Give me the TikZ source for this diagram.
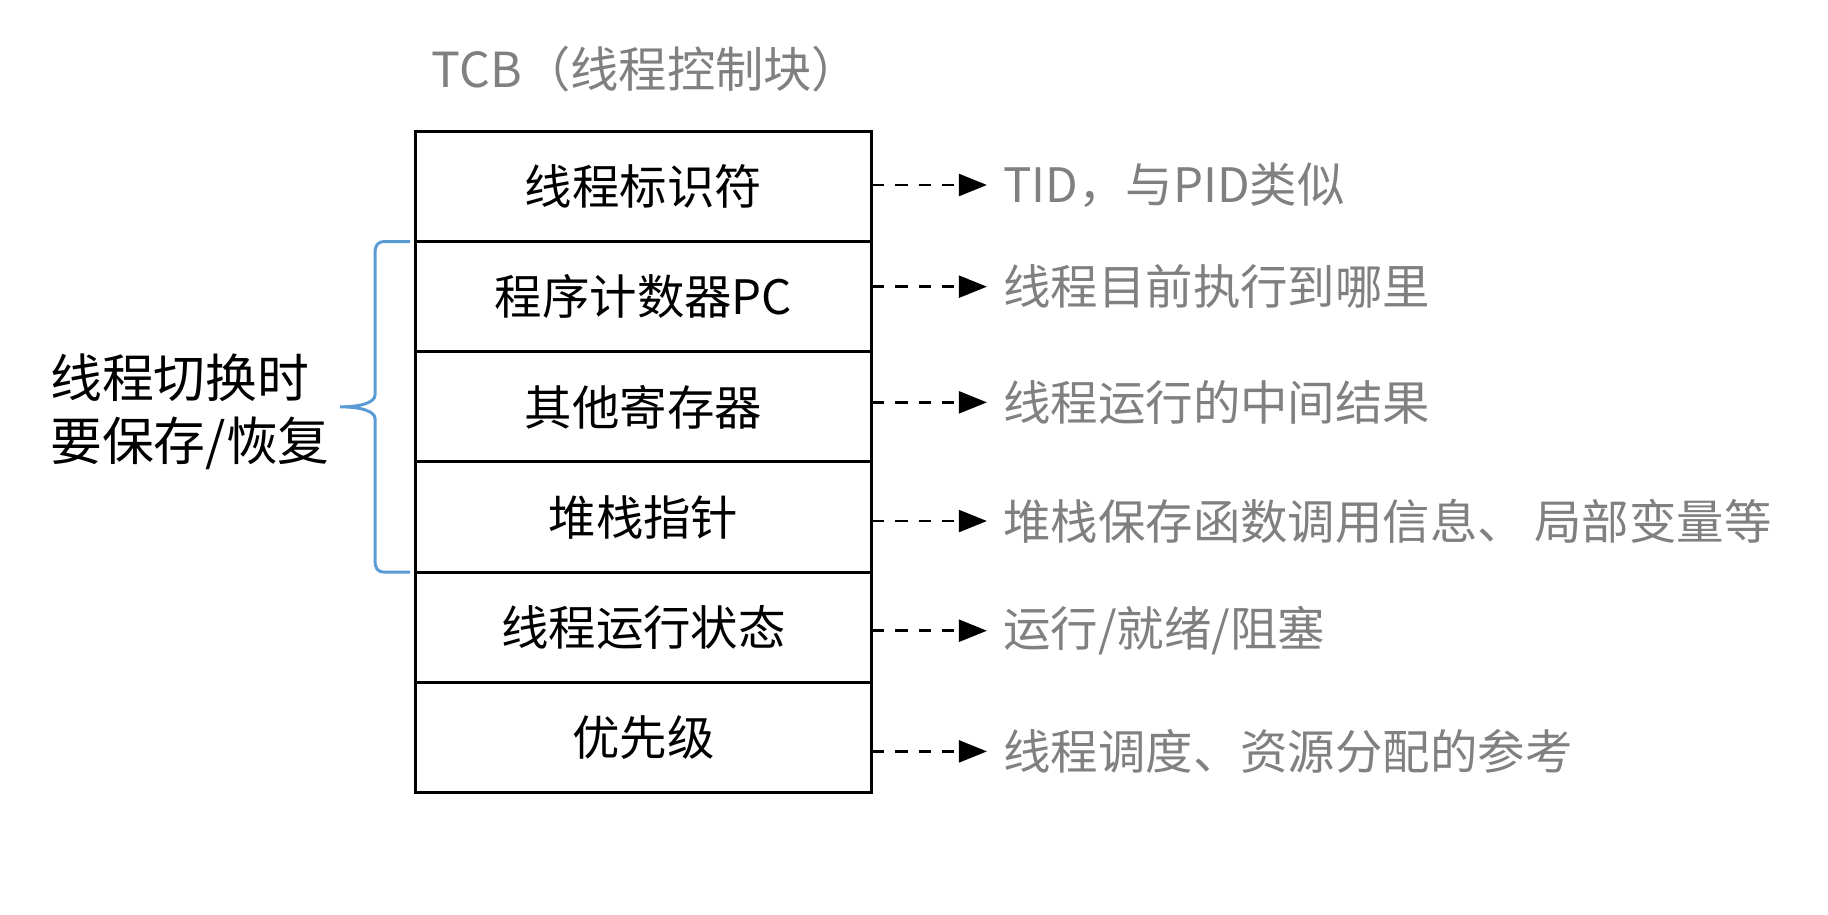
\documentclass[tikz,border=0pt]{standalone}
\usepackage{fontspec}
\setmainfont{Noto Sans CJK SC}
\usepackage{tikz}
\usetikzlibrary{arrows.meta,calc,positioning}
\definecolor{notegray}{RGB}{128,128,128}
\definecolor{braceblue}{RGB}{91,155,213}
\tikzset{%
	field/.style   = {draw, rectangle, line width=1.7pt, outer sep=0pt, inner sep=0pt, minimum width=9.14cm, minimum height=2.204cm, font=\fontsize{27}{32}\selectfont}, % TCB row
	note/.style    = {text=notegray, inner xsep=0.32cm, inner ysep=0pt, font=\fontsize{27}{32}\selectfont}, % Description
	heading/.style = {text=notegray, inner sep=0pt, font=\fontsize{27.5}{32}\selectfont}, % Title
	keep/.style    = {align=left, inner sep=0pt, font=\fontsize{29.5}{36}\selectfont}, % Left text
	brc/.style     = {draw=braceblue, line width=1.7pt},
	darrow/.style  = {line width=1.5pt, dash pattern=on 7pt off 6.3pt, -{Triangle[length=16pt,width=12.5pt]}},
}
\begin{document}
\begin{tikzpicture}[x=0.02cm,y=0.02cm,node distance=2.204cm]
	\useasboundingbox (0,0) rectangle (1828,-915);
	\node [field] (tid) at (643.5,-186.5) {线程标识符};
	\node [field] (pc) [below of=tid] {程序计数器PC};
	\node [field] (regs) [below of=pc] {其他寄存器};
	\node [field] (sp) [below of=regs] {堆栈指针};
	\node [field] (state) [below of=sp] {线程运行状态};
	\node [field] (prio) [below of=state] {优先级};
	\node [heading] (tcb) [node distance=2.35cm, above of=tid, xshift=0.05cm] {TCB（线程控制块）};
	
	\node [note] (n1) [right=2.3cm of tid, yshift=0.03cm] {TID，与PID类似};
	\node [note] (n2) [right=2.3cm of pc, yshift=0.2cm] {线程目前执行到哪里};
	\node [note] (n3) [right=2.3cm of regs, yshift=0.09cm] {线程运行的中间结果};
	\node [note] (n4) [right=2.3cm of sp, yshift=-0.08cm] {堆栈保存函数调用信息、\hspace{0.2em}局部变量等};
	\node [note] (n5) [right=2.3cm of state, yshift=-0.07cm] {运行/就绪/阻塞};
	\node [note] (n6) [right=2.3cm of prio, yshift=-0.28cm] {线程调度、资源分配的参考};
	
	\draw [darrow] (tid.east |- n1.west) -- (n1.west);
	\draw [darrow] (pc.east |- n2.west) -- (n2.west);
	\draw [darrow] (regs.east |- n3.west) -- (n3.west);
	\draw [darrow] (sp.east |- n4.west) -- (n4.west);
	\draw [darrow] (state.east |- n5.west) -- (n5.west);
	\draw [darrow] (prio.east |- n6.west) -- (n6.west);
	
	% brace over the saved fields
	\coordinate (bt) at ([xshift=-0.1cm]pc.north west);
	\coordinate (bb) at ([xshift=-0.1cm]sp.south west);
	\coordinate (tip) at ($(bt)!0.5!(bb)+(-70,0)$);
	\draw [brc] (bt) -- ++(-25,0) .. controls +(-8,0) and +(0,8) .. ++(-10,-12)
		-- ($(tip)+(35,12)$) .. controls +(0,-8) and +(20,0) .. (tip)
		.. controls +(20,0) and +(0,8) .. ($(tip)+(35,-12)$)
		-- ($(bb)+(-35,12)$) .. controls +(0,-8) and +(-8,0) .. ($(bb)+(-25,0)$) -- (bb);
	\node [keep] (save) [left=0.2cm of tip, yshift=-0.1cm] {线程切换时\\要保存/恢复};
\end{tikzpicture}
\end{document}
